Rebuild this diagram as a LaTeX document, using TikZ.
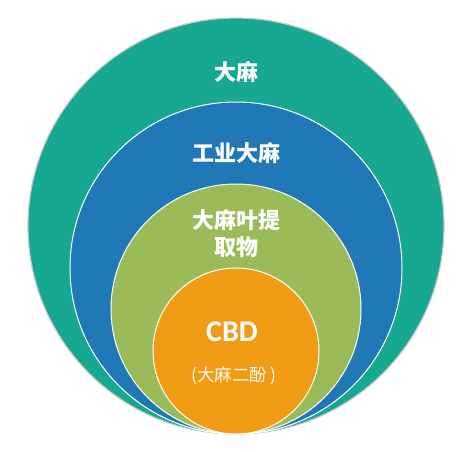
\documentclass[tikz,border=0pt]{standalone}
\usepackage{fontspec}
\usepackage{xcolor}
\usepackage{tikz}
\usetikzlibrary{positioning, calc}
\newfontfamily\cjk{Noto Sans CJK SC}
\newfontfamily\cbdfont{Carlito}
\definecolor{hempteal}{RGB}{22, 168, 145}
\definecolor{hempblue}{RGB}{33, 120, 182}
\definecolor{hempgreen}{RGB}{155, 187, 89}
\definecolor{hemporange}{RGB}{240, 156, 20}
\tikzset{
    ring/.style={circle, draw=white, line width=1pt, inner sep=0pt,
                 minimum size=#1},
    title/.style={font=\cjk\bfseries\fontsize{22}{26}\selectfont,
                  text=white, align=center, inner sep=0pt},
}

\begin{document}
\begin{tikzpicture}[x=1pt, y=-1pt]
    \useasboundingbox (0,0) rectangle (474,451);

    % Circles
    \node[ring=416pt, fill=hempteal, draw=gray!45, line width=1.2pt] (hemp) at (236,226) {};
    \node[ring=332pt, fill=hempblue] (industrial) at (236,268) {};
    \node[ring=250pt, fill=hempgreen] (extract) at (236,309) {};
    \node[ring=166pt, fill=hemporange] (cbd) at (236,351) {};

    % Labels
    \node[title] (hemplabel) at (236,72) {大麻};
    \node[title] (industriallabel) at (236,153) {工业大麻};
    \node[title] (extractlabel) at (236,234) {大麻叶提\\[1pt]取物};
    \node[font=\cbdfont\bfseries\fontsize{30}{33}\selectfont, text=white,
          inner sep=0pt] (cbdlabel) at (232,332) {CBD};
    \node[font=\cjk\fontsize{17.5}{20}\selectfont, text=white!92!hemporange,
          inner sep=0pt] (cbdname) at (234,376) {(大麻二酚 )};
\end{tikzpicture}
\end{document}
